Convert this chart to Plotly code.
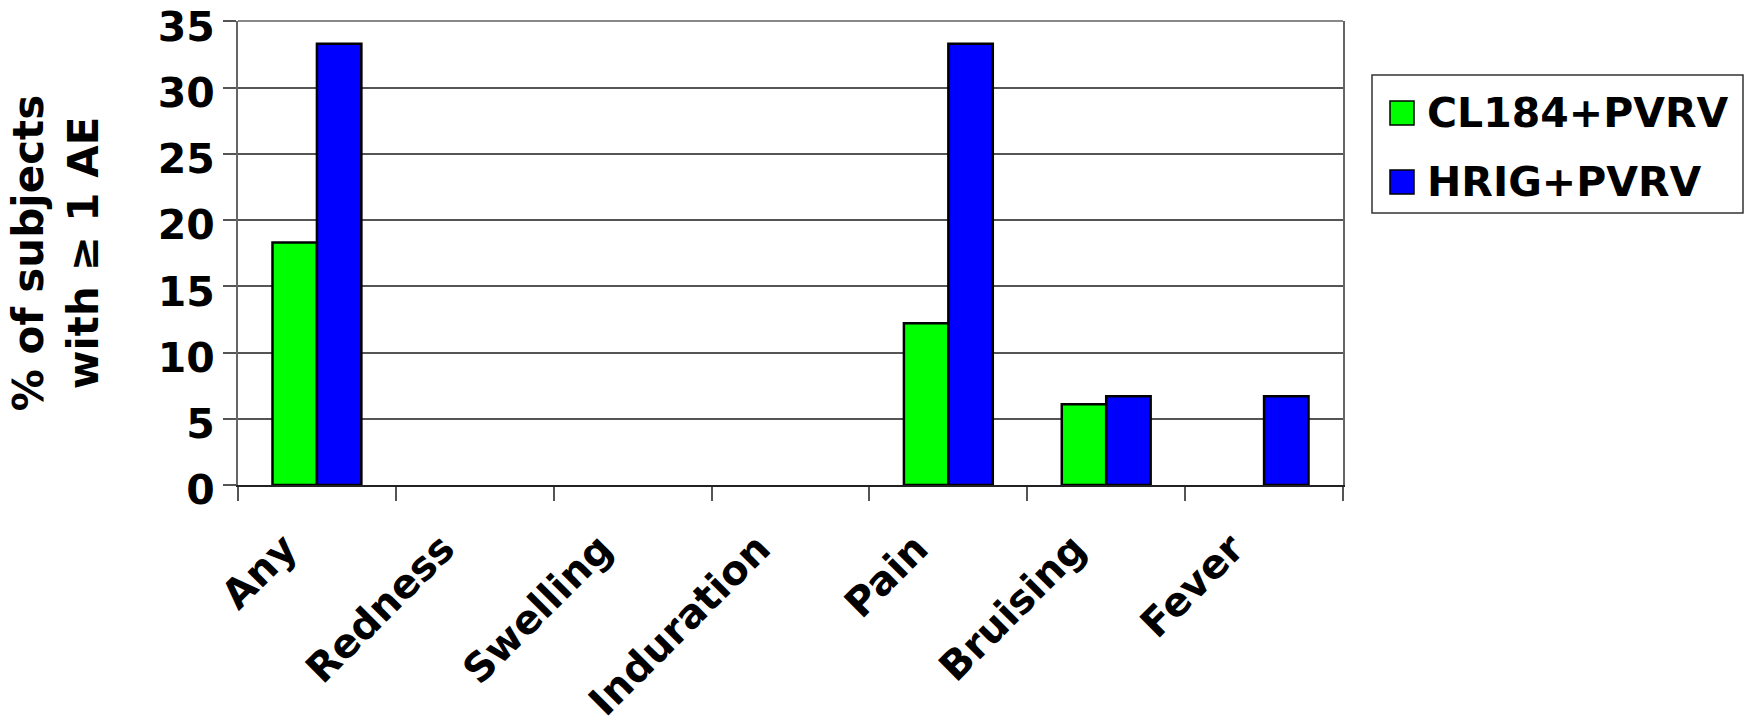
import plotly.graph_objects as go

# Local adverse events by treatment group
categories = ["Any", "Redness", "Swelling", "Induration", "Pain", "Bruising", "Fever"]
series_names = ["CL184+PVRV", "HRIG+PVRV"]
cl184_pvrv = [18.3, 0, 0, 0, 12.2, 6.1, 0]
hrig_pvrv = [33.3, 0, 0, 0, 33.3, 6.7, 6.7]
series_values = [cl184_pvrv, hrig_pvrv]
series_colors = ["#00FF00", "#0000FF"]
y_ticks = [0, 5, 10, 15, 20, 25, 30, 35]

W, H = 1749, 723
ML, MR, MT, MB = 238, 406, 21, 238
PW, PH = W - ML - MR, H - MT - MB


def bold(size):
    return dict(family="DejaVu Sans", size=size, color="black", weight="bold")


fig = go.Figure()
for name, vals, col in zip(series_names, series_values, series_colors):
    fig.add_trace(go.Bar(
        x=categories, y=vals, name=name,
        marker=dict(color=col,
                    line=dict(color="black", width=[2.5 if v > 0 else 0 for v in vals])),
        showlegend=False,
    ))


def px_x(px):
    return (px - ML) / PW


def px_y(py):
    return (H - MB - py) / PH


# Plot frame top edge and a boxed legend with square swatches
shapes = [
    dict(type="line", xref="paper", yref="paper", x0=0, x1=1, y0=1, y1=1,
         line=dict(color="#888888", width=2)),
    dict(type="rect", xref="paper", yref="paper",
         x0=px_x(1372), x1=px_x(1743), y0=px_y(213), y1=px_y(75),
         line=dict(color="#333333", width=1.5), fillcolor="white"),
]
annotations = []
row_centers = [113, 182]
for name, col, cy in zip(series_names, series_colors, row_centers):
    shapes.append(dict(type="rect", xref="paper", yref="paper",
                       x0=px_x(1390), x1=px_x(1414), y0=px_y(cy + 12), y1=px_y(cy - 12),
                       line=dict(color="black", width=1.5), fillcolor=col))
    annotations.append(dict(xref="paper", yref="paper", x=px_x(1425), y=px_y(cy),
                            text=name, showarrow=False, xanchor="left", yanchor="middle",
                            font=bold(41)))

fig.update_layout(
    width=W, height=H,
    margin=dict(l=ML, r=MR, t=MT, b=MB, autoexpand=False),
    paper_bgcolor="white", plot_bgcolor="white",
    barmode="group", bargap=0.437, bargroupgap=0,
    font=bold(40),
    shapes=shapes, annotations=annotations,
)
fig.update_xaxes(
    type="category", tickson="boundaries",
    ticks="outside", ticklen=14, tickwidth=1.5, tickcolor="#555555",
    showline=True, linecolor="#222222", linewidth=2,
    tickangle=-45, tickfont=bold(40), showgrid=False,
    ticklabelstandoff=22, ticklabelshift=-32,
    automargin=False,
)
fig.update_yaxes(
    range=[0, 35.02], tickvals=y_ticks,
    ticks="outside", ticklen=13, tickwidth=1.5, tickcolor="#555555",
    showline=True, linecolor="#666666", linewidth=2, mirror=True,
    showgrid=True, gridcolor="#555555", gridwidth=1.5,
    tickfont=bold(41), zeroline=False, ticklabeloverflow="allow",
    ticklabelshift=5,
    title=dict(text="% of subjects<br>with ≥ 1 AE", font=bold(42), standoff=46),
    automargin=False,
)

fig.write_html("out.html")
